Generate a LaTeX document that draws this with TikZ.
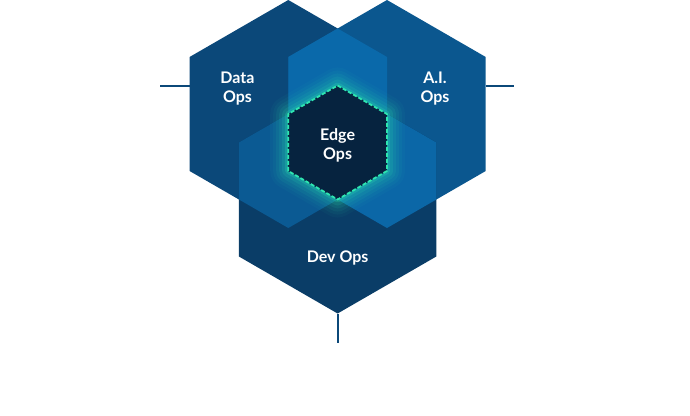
\documentclass[tikz,border=0pt]{standalone}
\usepackage{fontspec}
\setmainfont{Lato}
\usetikzlibrary{positioning}
\definecolor{dataBlue}{HTML}{0B4879}
\definecolor{aiBlue}{HTML}{0B578F}
\definecolor{devBlue}{HTML}{0A3D67}
\definecolor{dataAiBlue}{HTML}{0A69AA}
\definecolor{dataDevBlue}{HTML}{0B5A93}
\definecolor{aiDevBlue}{HTML}{0B67A7}
\definecolor{edgeNavy}{HTML}{06233F}
\definecolor{glowTeal}{HTML}{2EE6B0}
\begin{document}
\begin{tikzpicture}[x=1pt,y=1pt,line join=round,
	opstext/.style={text=white,font=\fontsize{16}{19}\selectfont\bfseries,align=center},
	stub/.style={draw=dataBlue,line width=2pt}]
	\def\r{114} \def\re{57}
	\def\hexp#1#2{(#1) +(90:#2) -- +(30:#2) -- +(-30:#2) -- +(-90:#2) -- +(-150:#2) -- +(150:#2) -- cycle}
	\useasboundingbox (0,0) rectangle (690,415);
	\coordinate (data) at (288.3,301);
	\coordinate (ai) at (387,301);
	\coordinate (dev) at (337.6,215.5);
	\coordinate (edge) at (337.6,272.5);
	\coordinate (dataW) at (189.6,329);
	\coordinate (aiE) at (485.7,329);
	\coordinate (devS) at (337.6,101.5);
	\coordinate (leftEnd) at (160,329);
	\coordinate (rightEnd) at (514,329);
	\coordinate (bottomEnd) at (337.6,72);
	\draw[stub] (leftEnd) -- (dataW);
	\draw[stub] (aiE) -- (rightEnd);
	\draw[stub] (devS) -- (bottomEnd);
	\fill[dataBlue] \hexp{data}{\r};
	\fill[aiBlue] \hexp{ai}{\r};
	\fill[devBlue] \hexp{dev}{\r};
	\begin{scope}
		\clip \hexp{data}{\r};
		\fill[dataAiBlue] \hexp{ai}{\r};
		\fill[dataDevBlue] \hexp{dev}{\r};
	\end{scope}
	\begin{scope}
		\clip \hexp{ai}{\r};
		\fill[aiDevBlue] \hexp{dev}{\r};
	\end{scope}
	\foreach \g/\o in {36/0.04,30/0.05,24/0.07,18/0.09,12/0.13,6/0.22}
		\draw[glowTeal,line width=\g,opacity=\o] \hexp{edge}{\re};
	\fill[edgeNavy] \hexp{edge}{\re};
	\draw[glowTeal,line width=1.8pt,dash pattern=on 4pt off 2pt] \hexp{edge}{\re};
	\node[opstext] (dataTxt) at (237.5,326) {Data\\Ops};
	\node[opstext] (aiTxt) at (435,326) {A.I.\\Ops};
	\node[opstext] (edgeTxt) at (337.6,269.5) {Edge\\Ops};
	\node[opstext] (devTxt) at (337.6,157) {Dev Ops};
\end{tikzpicture}
\end{document}
